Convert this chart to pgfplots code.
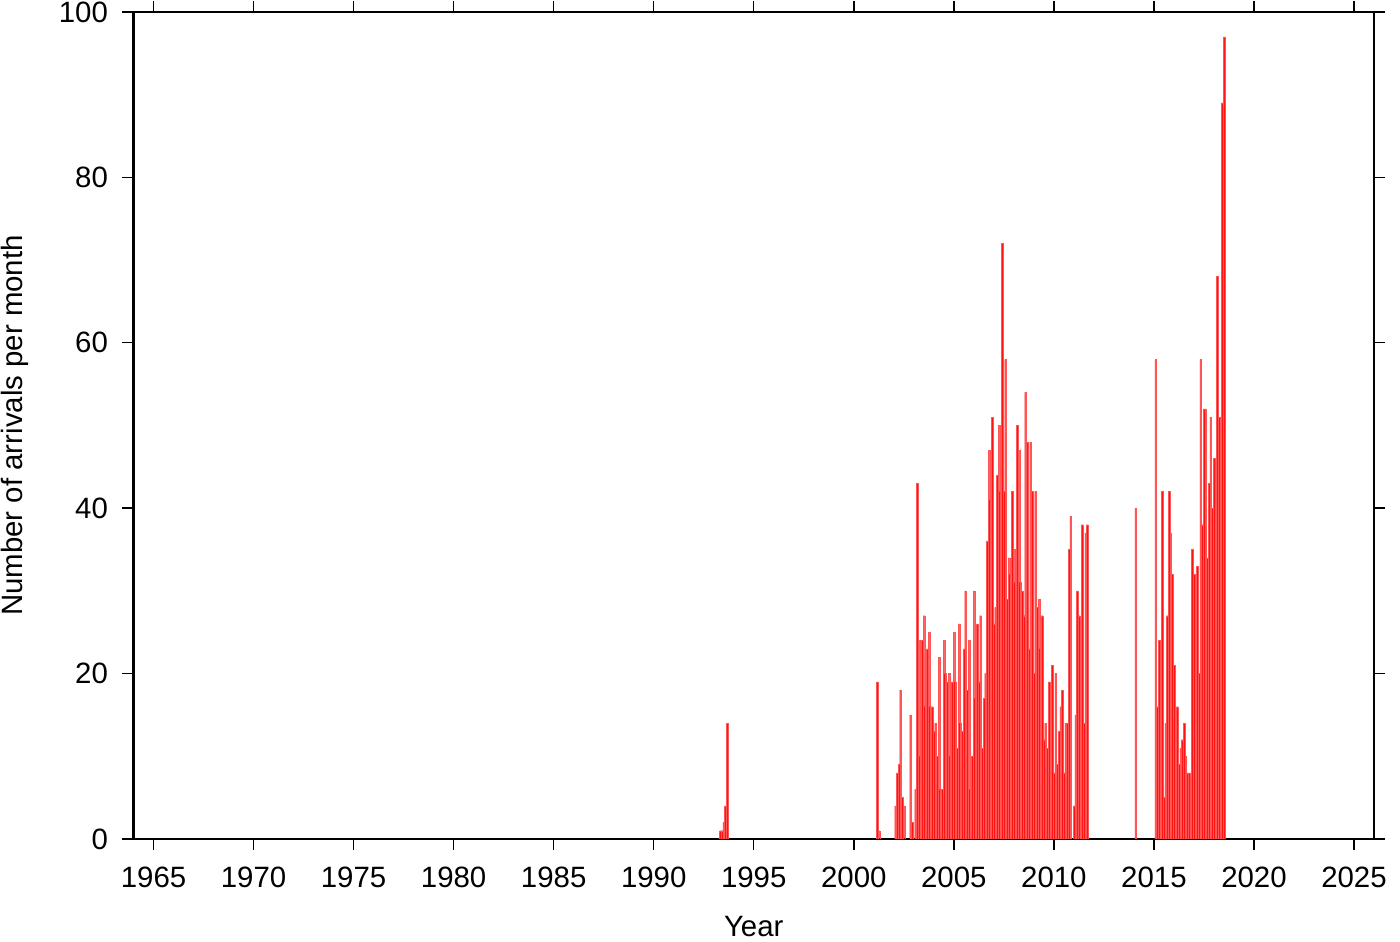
\documentclass[border=0pt]{standalone}
\usepackage{fontspec}
\setmainfont{Liberation Sans}
\usepackage{pgfplots}
\pgfplotsset{compat=1.18}
\definecolor{barred}{RGB}{255,20,20}
\definecolor{barseam}{RGB}{255,85,85}
\begin{document}
\begin{tikzpicture}
\useasboundingbox (-47.68pt,-36.79pt) rectangle (452.32pt,299.64pt);
\begin{axis}[
  at={(0pt,0pt)}, anchor=south west,
  width=443.04pt, height=295.36pt, scale only axis,
  xmin=1964, xmax=2026, ymin=0, ymax=100,
  xtick={1965,1970,...,2025}, ytick={0,20,...,100},
  tick align=outside, xtick pos=both, ytick pos=both,
  major tick length=4pt,
  axis line style={line width=0.8pt},
  tick style={line width=0.5pt, black},
  /pgf/number format/assume math mode=true,
  xticklabel style={/pgf/number format/1000 sep={}, yshift=-2.4pt},
  yticklabel style={xshift=-1.6pt},
  tick label style={font=\fontsize{10.5}{12}\selectfont},
  label style={font=\fontsize{10.5}{12}\selectfont},
  xlabel={Year}, ylabel={Number of arrivals per month},
  xlabel style={at={([yshift=-35.0pt]axis description cs:0.5,0)}, anchor=base},
  ylabel style={at={([xshift=-39.6pt]axis description cs:0,0.5)}, anchor=base, rotate=0},
  ybar, bar width=0.08333,
]
\addplot[fill=barred, draw=barseam, line width=0.1pt, bar shift=-0.04] coordinates {
(1993.375,1)(1993.4583,1)(1993.5417,2)(1993.625,4)(1993.7083,14)
(2001.2083,19)(2001.2917,1)
(2002.125,4)(2002.2083,8)(2002.2917,9)(2002.375,18)(2002.4583,5)(2002.5417,4)(2002.875,15)(2002.9583,2)
(2003.125,6)(2003.2083,43)(2003.2917,24)(2003.375,10)(2003.4583,24)(2003.5417,27)(2003.625,16)(2003.7083,23)(2003.7917,25)(2003.875,16)(2003.9583,16)
(2004.0417,13)(2004.125,14)(2004.2083,10)(2004.2917,22)(2004.375,6)(2004.4583,6)(2004.5417,24)(2004.625,20)(2004.7083,19)(2004.7917,20)(2004.875,10)(2004.9583,19)
(2005.0417,25)(2005.125,19)(2005.2083,11)(2005.2917,26)(2005.375,14)(2005.4583,13)(2005.5417,23)(2005.625,30)(2005.7083,18)(2005.7917,24)(2005.875,6)(2005.9583,10)
(2006.0417,30)(2006.125,17)(2006.2083,26)(2006.2917,19)(2006.375,27)(2006.4583,11)(2006.5417,17)(2006.625,20)(2006.7083,36)(2006.7917,47)(2006.875,41)(2006.9583,51)
(2007.0417,26)(2007.125,28)(2007.2083,44)(2007.2917,50)(2007.375,42)(2007.4583,72)(2007.5417,42)(2007.625,58)(2007.7083,29)(2007.7917,34)(2007.875,32)(2007.9583,42)
(2008.0417,35)(2008.125,31)(2008.2083,50)(2008.2917,47)(2008.375,31)(2008.4583,30)(2008.5417,27)(2008.625,54)(2008.7083,48)(2008.7917,23)(2008.875,48)(2008.9583,42)
(2009.0417,20)(2009.125,42)(2009.2083,28)(2009.2917,29)(2009.375,23)(2009.4583,27)(2009.5417,12)(2009.625,14)(2009.7083,11)(2009.7917,19)(2009.875,19)(2009.9583,21)
(2010.0417,8)(2010.125,20)(2010.2083,9)(2010.2917,13)(2010.375,16)(2010.4583,18)(2010.5417,8)(2010.625,14)(2010.7083,14)(2010.7917,35)(2010.875,39)
(2011.0417,4)(2011.125,15)(2011.2083,30)(2011.2917,27)(2011.375,17)(2011.4583,38)(2011.5417,14)(2011.625,37)(2011.7083,38)
(2014.125,40)
(2015.125,58)(2015.2083,16)(2015.2917,24)(2015.375,19)(2015.4583,42)(2015.5417,5)(2015.625,14)(2015.7083,27)(2015.7917,42)(2015.875,37)(2015.9583,32)
(2016.0417,21)(2016.125,9)(2016.2083,16)(2016.2917,9)(2016.375,11)(2016.4583,12)(2016.5417,14)(2016.625,10)(2016.7083,8)(2016.7917,8)(2016.875,2)(2016.9583,35)
(2017.0417,32)(2017.125,20)(2017.2083,33)(2017.2917,20)(2017.375,58)(2017.4583,38)(2017.5417,52)(2017.625,52)(2017.7083,34)(2017.7917,43)(2017.875,51)(2017.9583,40)
(2018.0417,46)(2018.125,30)(2018.2083,68)(2018.2917,51)(2018.375,42)(2018.4583,89)(2018.5417,97)
};
\end{axis}
\end{tikzpicture}
\end{document}
